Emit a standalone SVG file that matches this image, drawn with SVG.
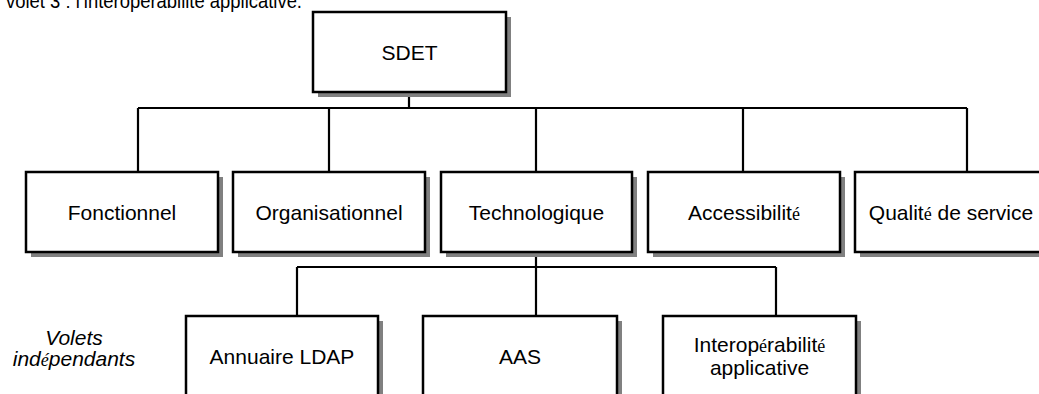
<svg xmlns="http://www.w3.org/2000/svg" width="1039" height="394" viewBox="0 0 1039 394">
<style>
.sh{fill:#808080;stroke:none}
.bx{fill:#fff;stroke:#000;stroke-width:2.5}
.t{font-family:"Liberation Sans",Arial,sans-serif;font-size:21px;fill:#000;text-anchor:middle}
.it{font-style:italic}
.e{font-family:"Liberation Serif","Times New Roman",serif;font-size:18px}
.ln{stroke:#000;stroke-width:2.2;fill:none}
</style>
<rect width="1039" height="394" fill="#fff"/>
<text x="6" y="8" textLength="296" lengthAdjust="spacingAndGlyphs" style="font-family:'Liberation Sans',Arial,sans-serif;font-size:20px;fill:#000">volet 3 : l’interopérabilité applicative.</text>
<g id="connectors">
<path class="ln" d="M409 92V108M138 108H967M138 108V172M329 108V172M536 108V172M743 108V172M967 108V172"/>
<path class="ln" d="M536 252V267M297 267H776M297 267V316M536 267V316M776 267V316"/>
</g>
<g id="n-sdet"><rect class="sh" x="318" y="17" width="193" height="80"/><rect class="bx" x="313" y="12" width="193" height="80"/><text class="t" x="409.5" y="60">SDET</text></g>
<g id="n-fonctionnel"><rect class="sh" x="31" y="177" width="192" height="80"/><rect class="bx" x="26" y="172" width="192" height="80"/><text class="t" x="122" y="219.5">Fonctionnel</text></g>
<g id="n-organisationnel"><rect class="sh" x="238" y="177" width="192" height="80"/><rect class="bx" x="233" y="172" width="192" height="80"/><text class="t" x="329" y="219.5">Organisationnel</text></g>
<g id="n-technologique"><rect class="sh" x="446" y="177" width="191" height="80"/><rect class="bx" x="441" y="172" width="191" height="80"/><text class="t" x="536.5" y="219.5">Technologique</text></g>
<g id="n-accessibilite"><rect class="sh" x="653" y="177" width="192" height="80"/><rect class="bx" x="648" y="172" width="192" height="80"/><text class="t" x="744" y="219.5">Accessibilit<tspan class="e">é</tspan></text></g>
<g id="n-qualite"><rect class="sh" x="860" y="177" width="192" height="80"/><rect class="bx" x="855" y="172" width="192" height="80"/><text class="t" x="951" y="219.5">Qualit<tspan class="e">é</tspan> de service</text></g>
<g id="n-ldap"><rect class="sh" x="191" y="321" width="192" height="80"/><rect class="bx" x="186" y="316" width="192" height="80"/><text class="t" x="282" y="363.5">Annuaire LDAP</text></g>
<g id="n-aas"><rect class="sh" x="428" y="321" width="194" height="80"/><rect class="bx" x="423" y="316" width="194" height="80"/><text class="t" x="520" y="363.5">AAS</text></g>
<g id="n-interop"><rect class="sh" x="668" y="321" width="193" height="80"/><rect class="bx" x="663" y="316" width="193" height="80"/><text class="t" x="759.5" y="352">Interop<tspan class="e">é</tspan>rabilit<tspan class="e">é</tspan></text><text class="t" x="759.5" y="374.5">applicative</text></g>
<g id="label-volets"><text class="t it" x="74" y="345">Volets</text><text class="t it" x="74" y="366">ind<tspan class="e">é</tspan>pendants</text></g>
</svg>
